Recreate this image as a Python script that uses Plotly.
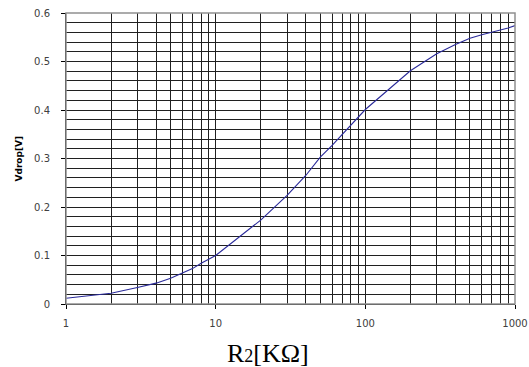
import plotly.graph_objects as go

r2 = [1, 2, 3, 4, 5, 6, 7, 8, 9, 10, 20, 30, 40, 50, 60, 70, 80, 90, 100,
      200, 300, 400, 500, 600, 700, 800, 900, 1000]
vdrop = [0.012, 0.022, 0.034, 0.043, 0.053, 0.063, 0.073, 0.084, 0.092, 0.100,
         0.173, 0.224, 0.265, 0.303, 0.327, 0.350, 0.368, 0.387, 0.401,
         0.481, 0.516, 0.535, 0.548, 0.555, 0.560, 0.565, 0.569, 0.574]
xticks = [1, 10, 100, 1000]
xticklabels = ["1", "10", "100", "1000"]
yticks = [0, 0.1, 0.2, 0.3, 0.4, 0.5, 0.6]
yticklabels = ["0", "0.1", "0.2", "0.3", "0.4", "0.5", "0.6"]
x_title = "R<span style='font-size:18px'>2</span>[KΩ]"
y_title = "<b>Vdrop[V]</b>"

fig = go.Figure()
fig.add_trace(go.Scatter(x=r2, y=vdrop, mode="lines",
                         line=dict(color="#2a2a9a", width=1.1),
                         hoverinfo="skip", showlegend=False))

tickfont = dict(family="DejaVu Sans, Verdana, sans-serif", size=10, color="#404040")

fig.update_layout(
    width=529, height=367,
    margin=dict(l=66, r=14, t=13, b=63),
    plot_bgcolor="white", paper_bgcolor="white",
    xaxis=dict(type="log", range=[0, 3], tickvals=xticks, ticktext=xticklabels,
               automargin=False,
               showgrid=True, gridcolor="#202020", gridwidth=1,
               minor=dict(tickvals=[m * 10 ** d for d in range(3) for m in range(2, 10)],
                          showgrid=True, gridcolor="#202020", gridwidth=1, ticklen=0),
               ticks="outside", ticklen=4, tickcolor="black",
               showline=True, linecolor="black", linewidth=1, zeroline=False,
               tickfont=tickfont, ticklabelstandoff=6),
    yaxis=dict(range=[0, 0.6], tickvals=yticks, ticktext=yticklabels,
               automargin=False,
               showgrid=True, gridcolor="#202020", gridwidth=1,
               minor=dict(dtick=0.02, showgrid=True, gridcolor="#202020", gridwidth=1, ticklen=0),
               ticks="outside", ticklen=4, tickcolor="black",
               showline=True, linecolor="black", linewidth=1, zeroline=False,
               tickfont=tickfont, ticklabelstandoff=9),
    shapes=[dict(type="rect", xref="paper", yref="paper", x0=0, y0=0, x1=1, y1=1,
                 line=dict(color="#909090", width=1.5), layer="above")],
    annotations=[
        dict(text=x_title, xref="paper", yref="paper", x=0.45, y=0,
             xanchor="center", yanchor="middle", yshift=-49, showarrow=False,
             font=dict(family="Liberation Serif, Times New Roman, serif", size=26, color="black")),
        dict(text=y_title, xref="paper", yref="paper", x=0, y=0.5,
             xanchor="center", yanchor="middle", xshift=-48, textangle=-90, showarrow=False,
             font=dict(family="DejaVu Sans, Verdana, sans-serif", size=9, color="black")),
    ],
)

fig.write_html("out.html")
